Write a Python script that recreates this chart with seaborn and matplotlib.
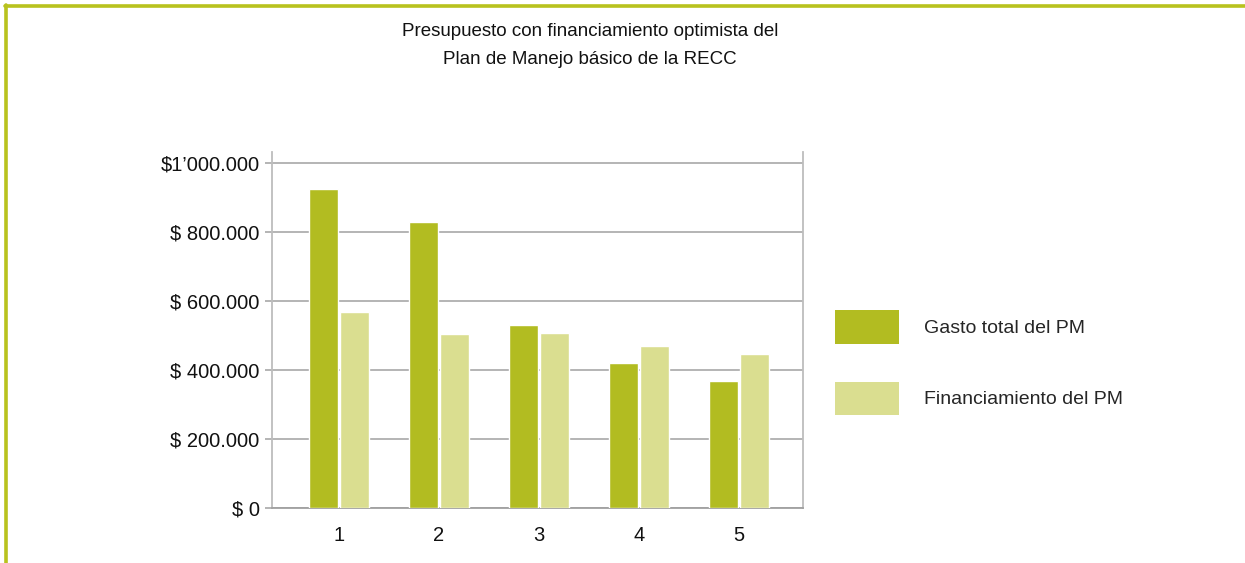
import matplotlib
matplotlib.use("Agg")
import matplotlib.pyplot as plt
from matplotlib.lines import Line2D
from matplotlib.patches import Patch
import seaborn as sns
import pandas as pd

periods = ["1", "2", "3", "4", "5"]
gasto = [923000, 829000, 529000, 421000, 369000]
financiamiento = [568000, 505000, 507000, 469000, 447000]
series_names = ["Gasto total del PM", "Financiamiento del PM"]
ytick_values = [0, 200000, 400000, 600000, 800000, 1000000]
ytick_labels = ["$ 0", "$ 200.000", "$ 400.000", "$ 600.000", "$ 800.000", "$1\u2019000.000"]
title = "Presupuesto con financiamiento optimista del\nPlan de Manejo básico de la RECC"

colors = ["#B2BC21", "#DADE90"]
border_color = "#B8C21E"

sns.set_theme(style="white")
plt.rcParams["font.family"] = ["Liberation Sans", "DejaVu Sans"]

df = pd.DataFrame({
    "periodo": periods * 2,
    "valor": gasto + financiamiento,
    "serie": [series_names[0]] * len(periods) + [series_names[1]] * len(periods),
})

fig = plt.figure(figsize=(12.45, 5.63), dpi=100)
ax = fig.add_axes([0.2185, 0.0977, 0.4265, 0.6323])

sns.barplot(data=df, x="periodo", y="valor", hue="serie", order=periods,
            hue_order=series_names, palette=colors, width=0.62, gap=0.06,
            saturation=1, ax=ax, legend=False, zorder=3)

ax.set_xlim(-0.67, 4.64)
ax.set_ylim(0, 1031000)
ax.set_yticks(ytick_values)
ax.set_yticklabels(ytick_labels)
ax.set_xlabel("")
ax.set_ylabel("")

ax.grid(axis="y", color="#A8A8A8", linewidth=1.2, zorder=0)
ax.set_axisbelow(True)
for s in ["left", "right", "bottom"]:
    ax.spines[s].set_visible(True)
    ax.spines[s].set_color("#BDBDBD")
    ax.spines[s].set_linewidth(1.3)
ax.spines["bottom"].set_color("#A0A0A0")
ax.spines["top"].set_visible(False)

ax.tick_params(axis="y", length=5, width=1.2, color="#A8A8A8", pad=4,
               labelsize=14.5, labelcolor="#111111", left=True)
ax.tick_params(axis="x", length=0, pad=13, labelsize=14.5, labelcolor="#111111")

fig.text(0.474, 0.92, title, ha="center", va="center", fontsize=13.5,
         color="#111111", linespacing=1.85)

handles = [Patch(facecolor=c, edgecolor="none") for c in colors]
fig.legend(handles, series_names, loc="center left", bbox_to_anchor=(0.6705, 0.356),
           frameon=False, fontsize=14, handlelength=3.3, handleheight=2.25,
           handletextpad=1.3, labelspacing=1.95, borderaxespad=0, borderpad=0)

# page border (top and left)
fig.add_artist(Line2D([0.004, 1.0], [0.989, 0.989], transform=fig.transFigure,
                      color=border_color, linewidth=2.6))
fig.add_artist(Line2D([0.005, 0.005], [0.0, 0.991], transform=fig.transFigure,
                      color=border_color, linewidth=2.6))

fig.savefig("out.png", dpi=100, facecolor="white")
